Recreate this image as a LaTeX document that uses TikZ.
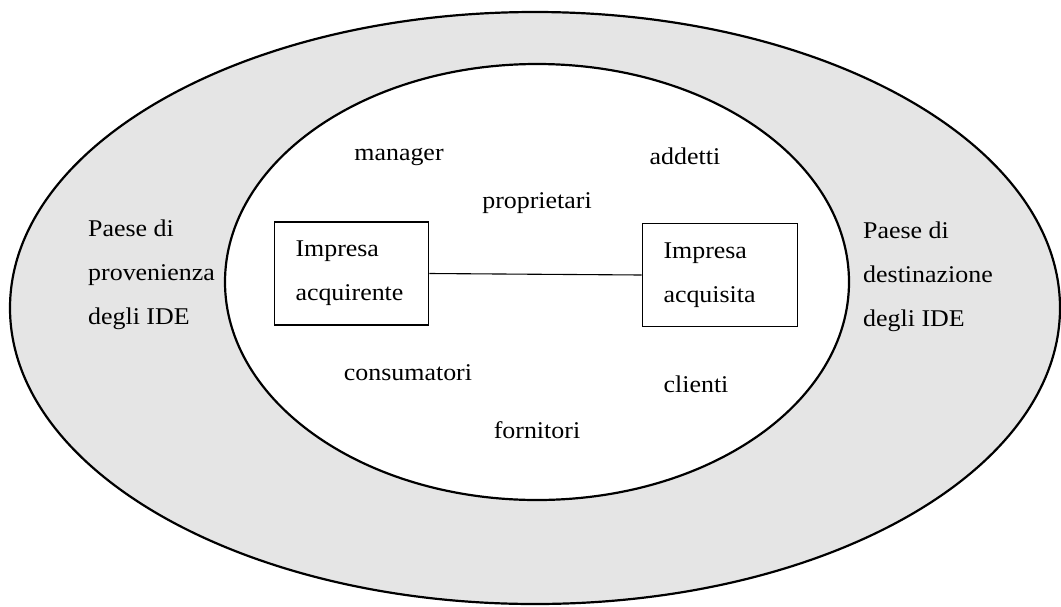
\documentclass[tikz,border=0pt]{standalone}
\usepackage{fontspec}
\setmainfont{Liberation Serif}[FakeStretch=1.08]
\definecolor{ring}{HTML}{E5E5E5}
\begin{document}
\begin{tikzpicture}[x=1pt,y=-1pt,
  every node/.style={font=\fontsize{24}{44}\selectfont, inner sep=0pt},
  firm/.style={draw, line width=1.6pt, align=left, text width=112pt,
    inner xsep=21pt, minimum height=103pt},
  side/.style={anchor=west, align=left},
  actor/.style={anchor=base}]
  \useasboundingbox (0,0) rectangle (1061,606);
  % surrounding country ring and the local environment
  \draw[line width=2.2pt, fill=ring] (535,308) ellipse [x radius=525, y radius=296];
  \draw[line width=2.2pt, fill=white] (537,282) ellipse [x radius=312, y radius=218];

  % the two firms and the link between them
  \node[firm] (buyer) at (351.5,273.5) {Impresa\\acquirente};
  \node[firm, text width=113pt] (bought) at (720,275) {Impresa\\acquisita};
  \draw[line width=1.1pt] (buyer.east) -- (bought.west);

  % origin and destination countries
  \node[side] (origin) at (88,275) {Paese di\\provenienza\\degli IDE};
  \node[side] (dest) at (863,277) {Paese di\\destinazione\\degli IDE};

  % stakeholders
  \node[actor] (manager) at (399,160) {manager};
  \node[actor] (addetti) at (685,164) {addetti};
  \node[actor] (owners) at (537,208) {proprietari};
  \node[actor] (consumers) at (408,380) {consumatori};
  \node[actor] (clients) at (696,392) {clienti};
  \node[actor] (suppliers) at (537,438) {fornitori};
\end{tikzpicture}
\end{document}
